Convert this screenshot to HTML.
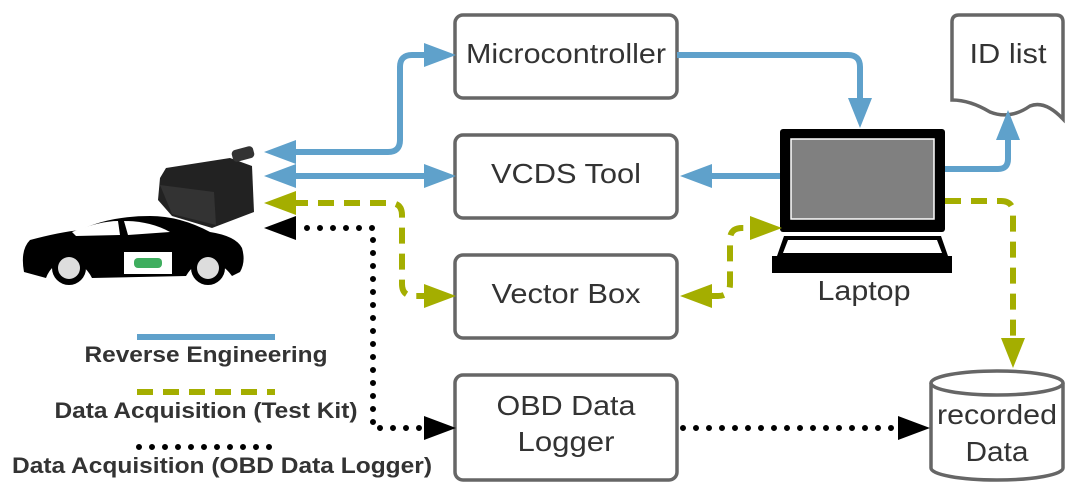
<!DOCTYPE html>
<html><head><meta charset="utf-8"><style>
html,body{margin:0;padding:0;background:#fff;}
svg{display:block;}
text{font-family:"Liberation Sans",sans-serif;fill:#333;}
</style></head><body>
<svg width="1080" height="497" viewBox="0 0 1080 497" xmlns="http://www.w3.org/2000/svg">
<rect width="1080" height="497" fill="#fff"/>
<g fill="#fff" stroke="#666" stroke-width="3.5">
<rect x="455" y="15" width="222" height="83" rx="8"/>
<rect x="455" y="135" width="222" height="83" rx="8"/>
<rect x="455" y="255" width="222" height="83" rx="8"/>
<rect x="455" y="375" width="222" height="105" rx="8"/>
<path d="M952 100 L952 22 Q952 15 959 15 L1056 15 Q1063 15 1063 22 L1063 119 Q1045 100 1030 106 Q1010 120 990 112 Q970 100 952 100 Z"/>
<path d="M931 383 L931 468 A66 12 0 0 0 1063 468 L1063 383"/>
<ellipse cx="997" cy="383" rx="66" ry="12"/>
</g>
<g font-size="28" text-anchor="middle" lengthAdjust="spacingAndGlyphs">
<text x="566" y="63" textLength="200" lengthAdjust="spacingAndGlyphs">Microcontroller</text>
<text x="566" y="183" textLength="150" lengthAdjust="spacingAndGlyphs">VCDS Tool</text>
<text x="566" y="303" textLength="149" lengthAdjust="spacingAndGlyphs">Vector Box</text>
<text x="566" y="415" textLength="139" lengthAdjust="spacingAndGlyphs">OBD Data</text>
<text x="566" y="451" textLength="97" lengthAdjust="spacingAndGlyphs">Logger</text>
<text x="1008" y="63" textLength="77" lengthAdjust="spacingAndGlyphs">ID list</text>
<text x="997" y="424" textLength="120" lengthAdjust="spacingAndGlyphs">recorded</text>
<text x="997" y="461" textLength="63" lengthAdjust="spacingAndGlyphs">Data</text>
<text x="864" y="300" textLength="93" lengthAdjust="spacingAndGlyphs">Laptop</text>
</g>
<rect x="780" y="129" width="165" height="103" rx="3" fill="#000"/>
<rect x="791" y="139" width="143" height="80" fill="#808080" stroke="#fff" stroke-width="1.5"/>
<path d="M784 236 L941 236 L948 256 L952 256 L952 273 L772 273 L772 256 L777 256 Z" fill="#000"/>
<path d="M788 240 L937 240 L942 253 L783 253 Z" fill="#fff"/>
<g stroke="#5fa1cb" stroke-width="6" fill="none">
<path d="M290 152 L388 152 Q400 152 400 140 L400 67 Q400 55 412 55 L430 55"/>
<path d="M290 176 L430 176"/>
<path d="M677 55 L848 55 Q860 55 860 67 L860 100"/>
<path d="M780 176 L708 176"/>
<path d="M945 169 L998 169 Q1008 169 1008 159 L1008 138"/>
<path d="M137 337 L275 337"/>
</g>
<g fill="#5fa1cb">
<path d="M264 152 L296 140 L296 164 Z"/>
<path d="M264 176 L296 164 L296 188 Z"/>
<path d="M456 55 L424 43 L424 67 Z"/>
<path d="M456 176 L424 164 L424 188 Z"/>
<path d="M860 128 L848 98 L872 98 Z"/>
<path d="M680 176 L712 164 L712 188 Z"/>
<path d="M1008 110 L996 140 L1020 140 Z"/>
</g>
<g stroke="#a4ae00" stroke-width="6" fill="none" stroke-dasharray="16 10">
<path d="M292 203 L390 203 Q402 203 402 215 L402 284 Q402 296 414 296 L430 296"/>
<path d="M708 296 L718 296 Q730 296 730 284 L730 240 Q730 228 742 228 L752 228"/>
<path d="M945 201 L1001 201 Q1013 201 1013 213 L1013 340"/>
<path d="M137 392 L275 392"/>
</g>
<g fill="#a4ae00">
<path d="M264 203 L296 191 L296 215 Z"/>
<path d="M456 296 L424 284 L424 308 Z"/>
<path d="M680 296 L712 284 L712 308 Z"/>
<path d="M782 228 L750 216 L750 240 Z"/>
<path d="M1013 368 L1001 338 L1025 338 Z"/>
</g>
<g stroke="#000" stroke-width="6" fill="none" stroke-dasharray="0 13" stroke-linecap="round">
<path d="M307 228 L373 228 L373 428 L430 428"/>
<path d="M683 428 L900 428"/>
<path d="M139 447 L275 447"/>
</g>
<g fill="#000">
<path d="M264 228 L296 216 L296 240 Z"/>
<path d="M456 428 L424 416 L424 440 Z"/>
<path d="M930 428 L898 416 L898 440 Z"/>
</g>
<g font-size="22" font-weight="bold" text-anchor="middle">
<text x="206" y="362" textLength="243" lengthAdjust="spacingAndGlyphs">Reverse Engineering</text>
<text x="206" y="418" textLength="303" lengthAdjust="spacingAndGlyphs">Data Acquisition (Test Kit)</text>
<text x="222" y="473" textLength="420" lengthAdjust="spacingAndGlyphs">Data Acquisition (OBD Data Logger)</text>
</g>
<path d="M24 272 Q20 250 30 240 Q60 232 80 230 Q110 216 150 216 Q180 216 210 232 Q236 236 242 248 Q246 262 240 272 L232 276 Q222 262 208 262 Q194 262 186 276 L92 278 Q84 262 68 262 Q52 262 46 278 Z" fill="#000"/>
<path d="M72 232 Q100 221 118 221 L120 235 L76 236 Z" fill="#fff"/>
<path d="M124 221 Q150 221 170 232 L128 235 Z" fill="#fff"/>
<circle cx="69" cy="268" r="17" fill="#000"/><circle cx="69" cy="268" r="11" fill="#ddd"/>
<circle cx="208" cy="268" r="17" fill="#000"/><circle cx="208" cy="268" r="11" fill="#ddd"/>
<rect x="124" y="252" width="48" height="22" fill="#fff"/>
<rect x="134" y="258" width="28" height="10" rx="4" fill="#3fae5f"/>
<path d="M166 168 L230 158 L252 166 L254 212 L212 228 L172 216 L158 200 L160 178 Z" fill="#222"/>
<path d="M160 185 L214 192 L216 225 L172 214 Z" fill="#333"/>
<rect x="232" y="148" width="22" height="12" rx="4" fill="#333" transform="rotate(-15 243 154)"/>
</svg>
</body></html>
